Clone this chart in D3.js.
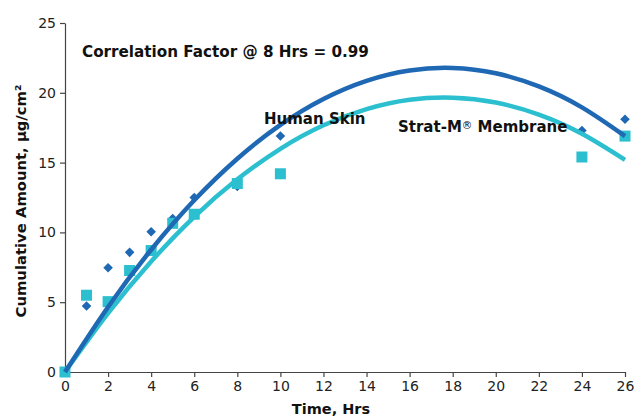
<!DOCTYPE html>
<html><head><meta charset="utf-8">
<script src="https://cdn.jsdelivr.net/npm/d3@7/dist/d3.min.js"></script>
<style>body{margin:0;background:#fff}svg{display:block}text{font-family:"DejaVu Sans",Verdana,sans-serif}</style>
</head><body><svg id="c" width="636" height="416"></svg>
<script>
const xTicks = [0,2,4,6,8,10,12,14,16,18,20,22,24,26];
const yTicks = [0,5,10,15,20,25];
const humanT = [0,1,2,3,4,5,6,8,10,24,26];
const humanV = [0,4.73,7.47,8.57,10.05,11.0,12.5,13.3,16.9,17.3,18.1];
const stratT = [0,1,2,3,4,5,6,8,10,24,26];
const stratV = [0,5.5,5.04,7.27,8.7,10.65,11.3,13.5,14.2,15.4,16.9];
const trendT = [0,2,4,6,8,10,12,14,16,18,20,22,24,26];
const humanTrend = [0,4.66,8.76,12.30,15.28,17.70,19.56,20.86,21.60,21.78,21.40,20.46,18.96,16.90];
const stratTrend = [0,4.21,7.92,11.12,13.80,15.99,17.67,18.83,19.50,19.65,19.30,18.44,17.07,15.20];
const humanColor = "#1f68b3", stratColor = "#2bbfcf";

const svg = d3.select("#c");
const x = d3.scaleLinear().domain([0,26]).range([65,625]);
const y = d3.scaleLinear().domain([0,25]).range([372,23]);

const xa = svg.append("g").attr("transform","translate(0,372)")
  .call(d3.axisBottom(x).tickValues(xTicks).tickSize(5).tickSizeOuter(0).tickPadding(4));
const ya = svg.append("g").attr("transform","translate(65,0)")
  .call(d3.axisLeft(y).tickValues(yTicks).tickSize(5).tickSizeOuter(0).tickPadding(4));
[xa,ya].forEach(a=>{
  a.selectAll("path,line").attr("stroke","#444").attr("stroke-width",1.2);
  a.selectAll("text").attr("font-size",14).attr("fill","#222").style("font-family","'DejaVu Sans',Verdana,sans-serif");
});

// markers
const diamond = d3.symbol().type(d3.symbolSquare).size(46);
svg.append("g").selectAll("path").data(humanT).join("path")
  .attr("d",diamond)
  .attr("transform",(t,i)=>`translate(${x(t)},${y(humanV[i])}) rotate(45)`)
  .attr("fill",humanColor);
svg.append("g").selectAll("rect").data(stratT).join("rect")
  .attr("x",t=>x(t)-5.5).attr("y",(t,i)=>y(stratV[i])-5.5)
  .attr("width",11).attr("height",11).attr("fill",stratColor);

// trend lines
const line = vals => d3.line().x(t=>x(t)).y((t,i)=>y(vals[i])).curve(d3.curveNatural)(trendT);
svg.append("path").attr("d",line(stratTrend)).attr("fill","none").attr("stroke",stratColor).attr("stroke-width",4.5);
svg.append("path").attr("d",line(humanTrend)).attr("fill","none").attr("stroke",humanColor).attr("stroke-width",4.5);

// annotations
svg.append("text").attr("x",82).attr("y",57).attr("font-size",15.2).attr("font-weight","bold").attr("fill","#111")
  .text("Correlation Factor @ 8 Hrs = 0.99");
svg.append("text").attr("x",264).attr("y",124).attr("font-size",15).attr("font-weight","bold").attr("fill","#111")
  .text("Human Skin");
const st = svg.append("text").attr("x",398).attr("y",132).attr("font-size",15).attr("font-weight","bold").attr("fill","#111");
st.append("tspan").text("Strat-M");
st.append("tspan").attr("font-size",10.5).attr("font-weight","normal").attr("dy",-3.5).text("®");
st.append("tspan").attr("dy",3.5).text(" Membrane");

// axis titles
svg.append("text").attr("x",331).attr("y",414).attr("text-anchor","middle").attr("font-size",14.5).attr("font-weight","bold").attr("fill","#111")
  .text("Time, Hrs");
svg.append("text").attr("transform","translate(26,201) rotate(-90)").attr("text-anchor","middle").attr("font-size",14.8).attr("font-weight","bold").attr("fill","#111")
  .text("Cumulative Amount, μg/cm²");
</script></body></html>
